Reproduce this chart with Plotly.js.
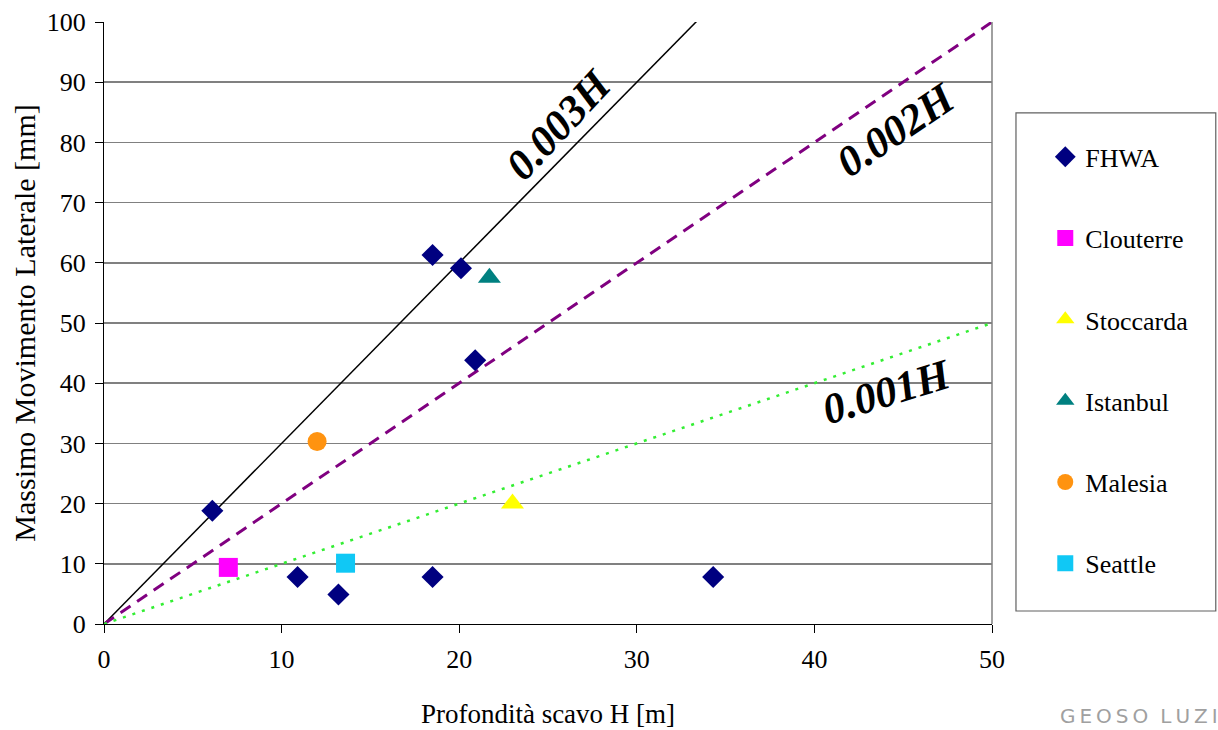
<!DOCTYPE html>
<html>
<head>
<meta charset="utf-8">
<script src="https://cdn.plot.ly/plotly-3.0.1.min.js"></script>
<style>
html,body{margin:0;padding:0;background:#fff;}
#chart{width:1218px;height:730px;}
</style>
</head>
<body>
<div id="chart"></div>
<script>
// Data (H in m, lateral movement in mm)
const fhwaX = [6.1, 18.5, 20.1, 20.9, 10.9, 13.2, 18.5, 34.3];
const fhwaY = [18.8, 61.3, 59.1, 43.8, 7.8, 4.9, 7.8, 7.8];
const clouterreX = [7.0];
const clouterreY = [9.4];
const stoccardaX = [23.0];
const stoccardaY = [20.0];
const istanbulX = [21.7];
const istanbulY = [57.5];
const malesiaX = [12.0];
const malesiaY = [30.3];
const seattleX = [13.6];
const seattleY = [10.1];

// Reference lines: 0.003H, 0.002H, 0.001H
const line003X = [0, 34];
const line003Y = [0, 102];
const line002X = [0, 50];
const line002Y = [0, 100];
const line001X = [0, 50];
const line001Y = [0, 50];

const serif = 'Liberation Serif';

const traces = [
  {x: line003X, y: line003Y, mode: 'lines', line: {color: '#000000', width: 1.5}, showlegend: false, hoverinfo: 'skip'},
  {x: line002X, y: line002Y, mode: 'lines', line: {color: '#800080', width: 3, dash: '12px,8px'}, showlegend: false, hoverinfo: 'skip'},
  {x: line001X, y: line001Y, mode: 'lines', line: {color: '#33EE33', width: 2.5, dash: '3px,7px'}, showlegend: false, hoverinfo: 'skip'},
  {x: fhwaX, y: fhwaY, mode: 'markers', name: 'FHWA', legendgroup: 'a', marker: {symbol: 'diamond', size: 17, color: '#000080'}},
  {x: clouterreX, y: clouterreY, mode: 'markers', name: 'Clouterre', legendgroup: 'b', marker: {symbol: 'square', size: 19, color: '#FF00FF'}},
  {x: stoccardaX, y: stoccardaY, mode: 'markers', name: 'Stoccarda', legendgroup: 'c', marker: {symbol: 'triangle-up', size: 20, color: '#FFFF00'}},
  {x: istanbulX, y: istanbulY, mode: 'markers', name: 'Istanbul', legendgroup: 'd', marker: {symbol: 'triangle-up', size: 20, color: '#008080'}},
  {x: malesiaX, y: malesiaY, mode: 'markers', name: 'Malesia', legendgroup: 'e', marker: {symbol: 'circle', size: 19, color: '#FF9310'}},
  {x: seattleX, y: seattleY, mode: 'markers', name: 'Seattle', legendgroup: 'f', marker: {symbol: 'square', size: 19, color: '#10C8F5'}}
];

const labelFont = {family: serif, size: 43, color: '#000000'};

const layout = {
  width: 1218,
  height: 730,
  margin: {l: 104, r: 226, t: 22, b: 106},
  paper_bgcolor: '#ffffff',
  plot_bgcolor: '#ffffff',
  font: {family: serif, color: '#000000'},
  xaxis: {
    range: [0, 50],
    tickvals: [0, 10, 20, 30, 40, 50],
    showgrid: false,
    zeroline: false,
    showline: true,
    linecolor: '#000000',
    linewidth: 1,
    ticks: 'outside',
    ticklen: 8,
    tickcolor: '#000000',
    tickfont: {family: serif, size: 26, color: '#000000'},
    ticklabelstandoff: 4,
    title: {text: 'Profondità scavo H [m]', font: {family: serif, size: 27, color: '#000000'}, standoff: 30},
    automargin: false
  },
  yaxis: {
    range: [0, 100],
    tickvals: [0, 10, 20, 30, 40, 50, 60, 70, 80, 90, 100],
    showgrid: true,
    gridcolor: '#808080',
    gridwidth: 1.5,
    zeroline: false,
    showline: true,
    linecolor: '#000000',
    linewidth: 1,
    ticks: 'outside',
    ticklen: 8,
    tickcolor: '#000000',
    tickfont: {family: serif, size: 26, color: '#000000'},
    ticklabelstandoff: 4,
    title: {text: 'Massimo Movimento Laterale [mm]\u00A0\u00A0\u00A0\u00A0\u00A0\u00A0\u00A0', font: {family: serif, size: 30, color: '#000000'}, standoff: 2},
    automargin: false
  },
  showlegend: true,
  legend: {
    x: 1.06, y: 0.815, xanchor: 'left', yanchor: 'top',
    font: {family: serif, size: 26, color: '#000000'},
    tracegroupgap: 44.5,
    bgcolor: 'rgba(0,0,0,0)',
    borderwidth: 0
  },
  shapes: [
    {type: 'line', xref: 'paper', yref: 'paper', x0: 1, x1: 1, y0: 0, y1: 1, line: {color: '#808080', width: 1.5}},
    {type: 'rect', xref: 'paper', yref: 'paper', x0: 1.027, x1: 1.252, y0: 0.0216, y1: 0.849, line: {color: '#606060', width: 1.2}, fillcolor: 'rgba(0,0,0,0)'}
  ],
  annotations: [
    {x: 25.6, y: 82.9, xref: 'x', yref: 'y', text: '<b><i>0.003H</i></b>', showarrow: false, textangle: -47, font: labelFont},
    {x: 44.6, y: 82.1, xref: 'x', yref: 'y', text: '<b><i>0.002H</i></b>', showarrow: false, textangle: -34, font: labelFont},
    {x: 44.1, y: 38.6, xref: 'x', yref: 'y', text: '<b><i>0.001H</i></b>', showarrow: false, textangle: -17, font: labelFont},
    {x: 1.0, y: -0.153, xref: 'paper', yref: 'paper', xanchor: 'left', yanchor: 'middle', text: 'G\u2009E\u2009O\u2009S\u2009O\u2009\u2009\u2009L\u2009U\u2009Z\u2009I', showarrow: false, font: {family: 'DejaVu Sans', size: 20, color: '#a0a0a0'}, xshift: 66}
  ]
};

Plotly.newPlot('chart', traces, layout, {displayModeBar: false, staticPlot: true});
</script>
</body>
</html>
